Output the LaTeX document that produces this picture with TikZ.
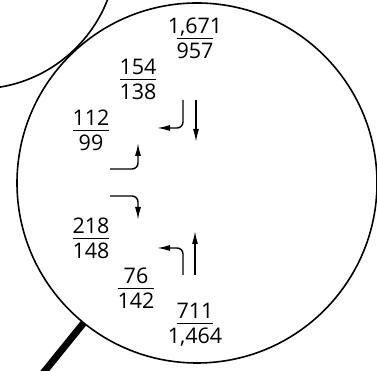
\documentclass[tikz,border=0pt]{standalone}
\usepackage{fontspec}
\setmainfont{Open Sans}
\usetikzlibrary{arrows.meta}
\newlength{\barw}
\setlength{\arrayrulewidth}{1.4pt}
\newcommand{\pair}[2]{\settowidth{\barw}{000}%
  \renewcommand{\arraystretch}{0}%
  \begin{tabular}{@{}c@{}}
    \rule[-4pt]{0pt}{20pt}\makebox[\barw]{#1}\\ \hline
    \rule[-4pt]{0pt}{23pt}\makebox[\barw]{#2}
  \end{tabular}}

\begin{document}
\begin{tikzpicture}[x=1pt,y=1pt,>={Latex[length=13pt,width=6pt]},
  font=\fontsize{21.5}{24}\selectfont,
  lens/.style={line width=1.6pt},
  flow/.style={->,line width=1.4pt,rounded corners=6pt},
  count/.style={inner sep=0pt}]
\useasboundingbox (0,0) rectangle (377,371);
\clip (0,0) rectangle (377,371);
% glass and handle
\draw[lens] (197,188) circle (180);
\draw[lens] (-23,422) circle (140);
\draw[line width=7pt] (197,188) ++(231:180) -- ++(231:120);
% counts
\node[count] (top) at (195,331) {\pair{1,671}{957}};
\node[count] (nw) at (138,290) {\pair{154}{138}};
\node[count] (w1) at (91,239) {\pair{112}{99}};
\node[count] (w2) at (91,131) {\pair{218}{148}};
\node[count] (sw) at (136,81) {\pair{76}{142}};
\node[count] (bottom) at (195,46) {\pair{711}{1,464}};
% turns
\coordinate (a1s) at (183,271); \coordinate (a1e) at (157,243);
\coordinate (a2s) at (196,271); \coordinate (a2e) at (196,229);
\coordinate (a3s) at (110,202); \coordinate (a3e) at (138,228);
\coordinate (a4s) at (110,175); \coordinate (a4e) at (138,151);
\coordinate (a5s) at (183,96);  \coordinate (a5e) at (157,123);
\coordinate (a6s) at (195,96);  \coordinate (a6e) at (195,140);
\draw[flow] (a1s) |- (a1e);
\draw[flow] (a2s) -- (a2e);
\draw[flow] (a3s) -| (a3e);
\draw[flow] (a4s) -| (a4e);
\draw[flow] (a5s) |- (a5e);
\draw[flow] (a6s) -- (a6e);
\end{tikzpicture}
\end{document}
